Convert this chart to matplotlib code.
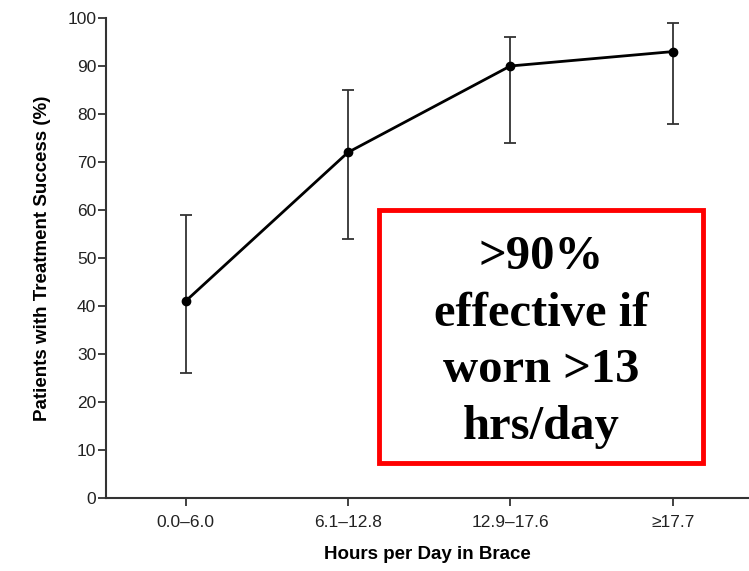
import numpy as np
import matplotlib
matplotlib.use('Agg')
import matplotlib.pyplot as plt
from matplotlib.patches import Rectangle

categories = ['0.0\u20136.0', '6.1\u201312.8', '12.9\u201317.6', '\u226517.7']
success = [41, 72, 90, 93]
ci_low = [26, 54, 74, 78]
ci_high = [59, 85, 96, 99]

x = np.arange(len(categories))
yerr = [np.array(success) - np.array(ci_low), np.array(ci_high) - np.array(success)]

plt.rcParams['font.family'] = ['Liberation Sans', 'DejaVu Sans']

fig = plt.figure(figsize=(7.49, 5.71), dpi=100)
ax = fig.add_axes([106 / 749, 1 - 498 / 571, 1 - 106 / 749, 480 / 571])

ax.errorbar(x, success, yerr=yerr, fmt='none', ecolor='#333333', elinewidth=1.3,
            capsize=4.5, capthick=1.3, zorder=2)
ax.plot(x, success, color='black', lw=2, marker='o', markersize=6, zorder=3)

ax.set_xlim(-0.49, 3.47)
ax.set_ylim(0, 100)
ax.set_yticks(np.arange(0, 101, 10))
ax.set_xticks(x)
ax.set_xticklabels(categories)
ax.tick_params(axis='both', direction='out', length=6, width=1.3, color='#333333',
               labelsize=12.5, labelcolor='#222222')
ax.tick_params(axis='x', pad=6)
ax.tick_params(axis='y', pad=1)
for s in ['top', 'right']:
    ax.spines[s].set_visible(False)
for s in ['left', 'bottom']:
    ax.spines[s].set_linewidth(1.5)
    ax.spines[s].set_color('#333333')

ax.set_xlabel('Hours per Day in Brace', fontsize=13.5, fontweight='bold', labelpad=12)
ax.set_ylabel('Patients with Treatment Success (%)', fontsize=13.5, fontweight='bold', labelpad=12)

# red call-out box
box = Rectangle((379 / 749, 1 - 463 / 571), (703 - 379) / 749, (463 - 210) / 571,
                transform=fig.transFigure, fill=True, facecolor='white',
                edgecolor='#ff0000', lw=3.5, zorder=5)
fig.patches.append(box)
fig.text((379 + 703) / 2 / 749, 1 - 342 / 571, '>90%\neffective if\nworn >13\nhrs/day',
         ha='center', va='center', fontsize=35, fontweight='bold',
         family='Liberation Serif', linespacing=1.37, zorder=6)

fig.savefig('out.png', dpi=100)
